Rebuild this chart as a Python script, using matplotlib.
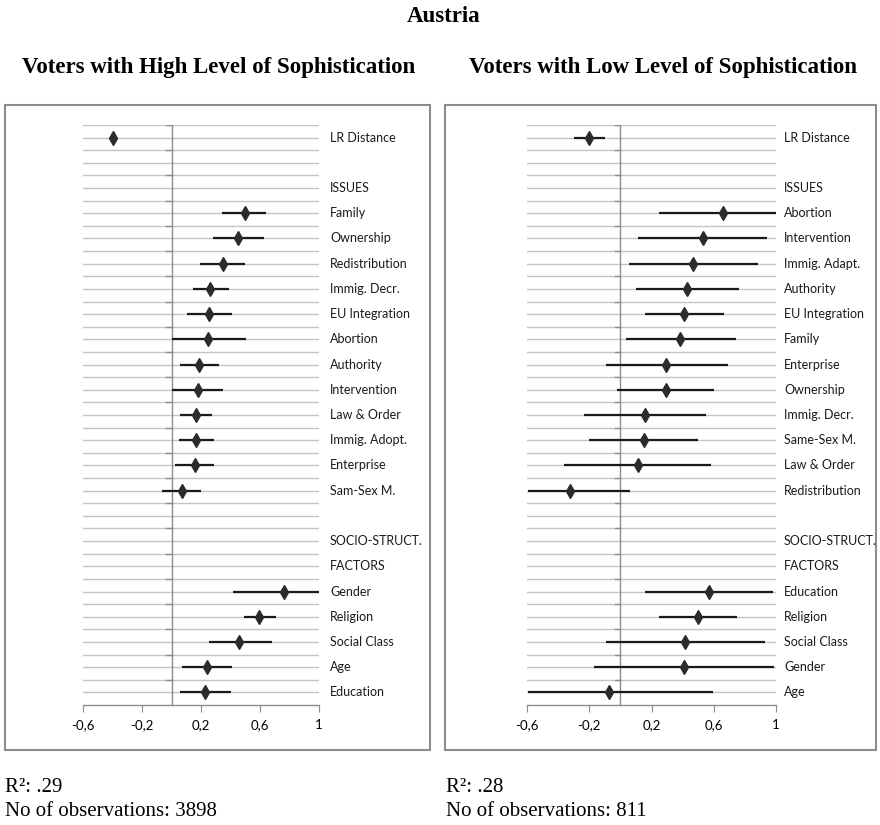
import numpy as np
import matplotlib
matplotlib.use("Agg")
import matplotlib.pyplot as plt
from matplotlib.patches import Rectangle
from matplotlib.transforms import blended_transform_factory

# ---------------- data ----------------
title = "Austria"
subtitle_high = "Voters with High Level of Sophistication"
subtitle_low = "Voters with Low Level of Sophistication"

rows_high = ["LR Distance", "", "ISSUES", "Family", "Ownership", "Redistribution",
             "Immig. Decr.", "EU Integration", "Abortion", "Authority", "Intervention",
             "Law & Order", "Immig. Adopt.", "Enterprise", "Sam-Sex M.", "",
             "SOCIO-STRUCT.", "FACTORS", "Gender", "Religion", "Social Class", "Age",
             "Education"]
est_high = [-0.40, None, None, 0.50, 0.45, 0.35, 0.264, 0.255, 0.248, 0.185, 0.178,
            0.169, 0.169, 0.16, 0.068, None, None, None, 0.765, 0.596, 0.46, 0.24, 0.23]
lo_high = [-0.42, None, None, 0.345, 0.28, 0.19, 0.147, 0.106, 0.0, 0.059, 0.005,
           0.059, 0.05, 0.025, -0.065, None, None, None, 0.415, 0.49, 0.255, 0.068, 0.059]
hi_high = [-0.38, None, None, 0.643, 0.63, 0.50, 0.388, 0.413, 0.503, 0.325, 0.35,
           0.275, 0.29, 0.29, 0.20, None, None, None, 1.0, 0.707, 0.68, 0.41, 0.40]

rows_low = ["LR Distance", "", "ISSUES", "Abortion", "Intervention", "Immig. Adapt.",
            "Authority", "EU Integration", "Family", "Enterprise", "Ownership",
            "Immig. Decr.", "Same-Sex M.", "Law & Order", "Redistribution", "",
            "SOCIO-STRUCT.", "FACTORS", "Education", "Religion", "Social Class",
            "Gender", "Age"]
est_low = [-0.20, None, None, 0.66, 0.532, 0.466, 0.425, 0.41, 0.384, 0.296, 0.29,
           0.159, 0.152, 0.112, -0.326, None, None, None, 0.571, 0.498, 0.418, 0.41, -0.071]
lo_low = [-0.298, None, None, 0.245, 0.116, 0.058, 0.099, 0.157, 0.034, -0.094, -0.021,
          -0.234, -0.20, -0.363, -0.592, None, None, None, 0.157, 0.245, -0.094, -0.167, -0.592]
hi_low = [-0.10, None, None, 1.0, 0.942, 0.882, 0.762, 0.663, 0.745, 0.689, 0.599,
          0.551, 0.50, 0.584, 0.062, None, None, None, 0.979, 0.749, 0.931, 0.985, 0.594]

xticks = [-0.6, -0.2, 0.2, 0.6, 1.0]
xtick_labels = ["-0,6", "-0,2", "0,2", "0,6", "1"]

notes_high = ["R²: .29", "No of observations: 3898"]
notes_low = ["R²: .28", "No of observations: 811"]

# ---------------- figure ----------------
W, H = 880, 825
fig = plt.figure(figsize=(W / 100, H / 100), dpi=100)
fig.patch.set_facecolor("white")

serif = ["Liberation Serif", "DejaVu Serif"]
sans = ["Lato", "DejaVu Sans"]


def fx(px):
    return px / W


def fy(py):
    return 1 - py / H


def panel(x0, x1, rows, est, lo, hi, label_x):
    y0, y1 = 125, 705
    ax = fig.add_axes([fx(x0), fy(y1), fx(x1 - x0), (y1 - y0) / H])
    n = len(rows)
    ax.set_xlim(-0.6, 1.0)
    ax.set_ylim(n - 0.5, -0.5)
    for s in ["top", "left", "right"]:
        ax.spines[s].set_visible(False)
    ax.spines["bottom"].set_color("#8c8c8c")
    ax.spines["bottom"].set_linewidth(1.0)
    # gridlines every half row
    for g in np.arange(-0.5, n - 0.5, 0.5):
        ax.axhline(g, color="#c4c4c4", lw=1.0, zorder=1)
    # vertical axis at zero
    ax.axvline(0, color="#8c8c8c", lw=1.0, zorder=2)
    for g in np.arange(-0.5, n - 0.5, 1.0):
        ax.plot([-0.035, 0], [g, g], color="#8c8c8c", lw=1.0, zorder=2)
    ax.set_yticks([])
    ax.set_xticks(xticks)
    ax.set_xticklabels(xtick_labels, family=sans, fontsize=9.5)
    ax.tick_params(axis="x", direction="out", length=5, color="#8c8c8c", pad=5)
    # error bars and markers
    for i, (e, l, h) in enumerate(zip(est, lo, hi)):
        if e is None:
            continue
        ax.plot([l, h], [i, i], color="#1a1a1a", lw=1.6, zorder=3, solid_capstyle="butt")
        ax.plot([e], [i], marker="d", color="#2b2b2b", markersize=7, zorder=4)
    tr = blended_transform_factory(fig.transFigure, ax.transData)
    for i, r in enumerate(rows):
        if r:
            ax.text(fx(label_x), i, r, transform=tr, ha="left", va="center",
                    family=sans, fontsize=9, color="#1a1a1a")
    return ax


panel(83, 319, rows_high, est_high, lo_high, hi_high, 330)
panel(527, 776, rows_low, est_low, lo_low, hi_low, 784)

# boxes
for (bx0, bx1) in [(5, 430), (445, 876)]:
    fig.add_artist(Rectangle((fx(bx0), fy(750)), fx(bx1 - bx0), (750 - 105) / H,
                             transform=fig.transFigure, fill=False,
                             ec="#8c8c8c", lw=1.5))

# titles
fig.text(fx(444), fy(16), title, ha="center", va="center", family=serif,
         fontsize=16.5, fontweight="bold")
fig.text(fx(219), fy(68), subtitle_high, ha="center", va="center", family=serif,
         fontsize=16.5, fontweight="bold")
fig.text(fx(663), fy(68), subtitle_low, ha="center", va="center", family=serif,
         fontsize=16.5, fontweight="bold")

# notes
for x, notes in [(5, notes_high), (446, notes_low)]:
    fig.text(fx(x), fy(788), notes[0], ha="left", va="center", family=serif, fontsize=15)
    fig.text(fx(x), fy(811), notes[1], ha="left", va="center", family=serif, fontsize=15)

fig.savefig("out.png", dpi=100, facecolor="white")
